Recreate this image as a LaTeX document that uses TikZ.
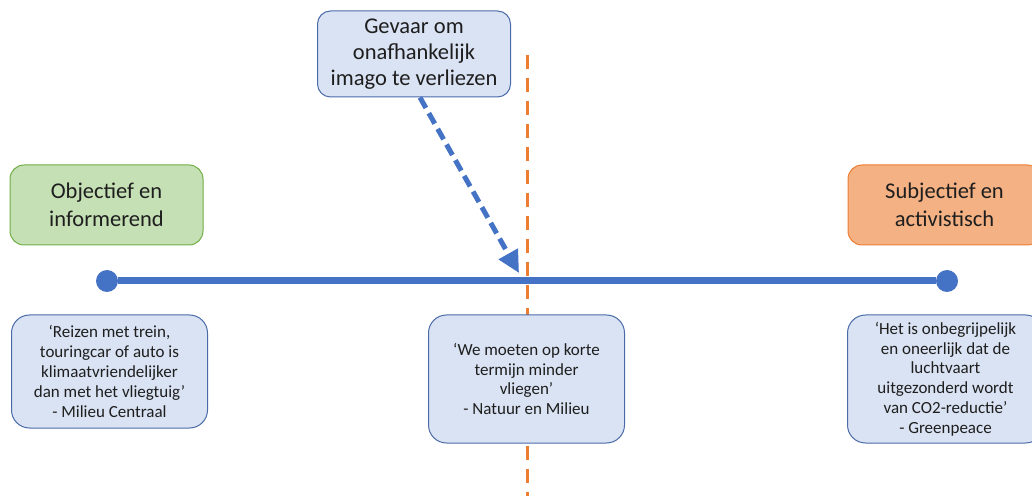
\documentclass[tikz,border=0pt]{standalone}
\usepackage{fontspec}
\setmainfont{Carlito}
\usetikzlibrary{arrows.meta}

\definecolor{boxblue}{HTML}{DAE3F3}
\definecolor{edgeblue}{HTML}{4A6BA8}
\definecolor{lineblue}{HTML}{4472C4}
\definecolor{boxgreen}{HTML}{C5E0B4}
\definecolor{edgegreen}{HTML}{70AD47}
\definecolor{boxorange}{HTML}{F4B183}
\definecolor{edgeorange}{HTML}{ED7D31}
\definecolor{ink}{HTML}{1E1E1E}

\begin{document}
\begin{tikzpicture}[x=1pt,y=1pt,
  quote/.style={draw=edgeblue, fill=boxblue, line width=1pt, rounded corners=18pt,
    minimum width=196pt, align=center, inner sep=0pt, text=ink,
    font=\fontsize{17}{19.8}\selectfont},
  pole/.style={line width=1pt, rounded corners=14pt, minimum width=193pt,
    minimum height=80pt, align=center, inner sep=0pt, text=ink,
    font=\fontsize{22.5}{27.5}\selectfont},
  dot/.style={circle, fill=lineblue, minimum size=22pt, inner sep=0pt}]

\useasboundingbox (0,0) rectangle (1032,495);
\clip (0,0) rectangle (1032,495);

% axis
\node[dot] (left) at (107,214) {};
\node[dot] (right) at (947,214) {};
\draw[lineblue, line width=7pt] (left) -- (right);

% middle line
\coordinate (midtop) at (527,440);
\coordinate (midbot) at (527,-5);
\draw[edgeorange, line width=3pt, dash pattern=on 14pt off 9pt] (midtop) -- (midbot);

% poles
\node[pole, draw=edgegreen, fill=boxgreen] (obj) at (106.5,290) {Objectief en\\informerend};
\node[pole, draw=edgeorange, fill=boxorange] (subj) at (944.5,290) {Subjectief en\\activistisch};

% risk
\node[quote, rounded corners=13pt, minimum width=193pt, minimum height=86pt,
  font=\fontsize{22.5}{25.8}\selectfont] (risk) at (414,441)
  {Gevaar om\\onafhankelijk\\imago te verliezen};
\coordinate (hit) at (519,222);
\draw[lineblue, line width=5pt, dash pattern=on 12pt off 6pt,
  -{Triangle[length=22pt,width=21pt]}] ([xshift=6pt]risk.south) -- (hit);

% quotes
\node[quote, minimum height=113pt] (q1) at (109.5,123.5)
  {‘Reizen met trein,\\touringcar of auto is\\klimaatvriendelijker\\dan met het vliegtuig’\\- Milieu Centraal};
\node[quote, minimum height=128pt] (q2) at (526.5,116)
  {‘We moeten op korte\\termijn minder\\vliegen’\\- Natuur en Milieu};
\node[quote, minimum height=128pt] (q3) at (945.5,116)
  {‘Het is onbegrijpelijk\\en oneerlijk dat de\\luchtvaart\\uitgezonderd wordt\\van CO2-reductie’\\- Greenpeace};
\end{tikzpicture}
\end{document}
